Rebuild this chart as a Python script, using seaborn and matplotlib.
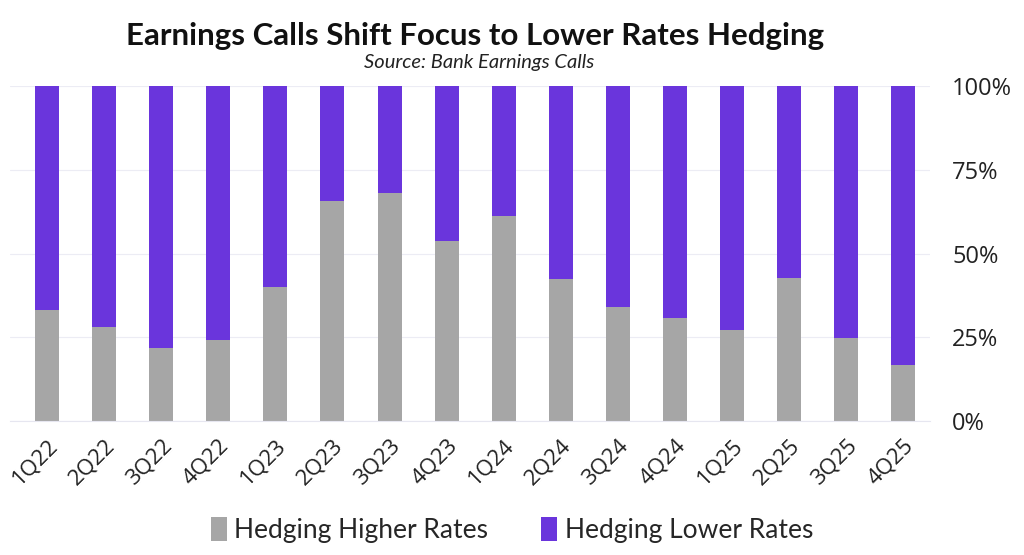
import numpy as np
import pandas as pd

import seaborn as sns
import matplotlib.pyplot as plt

quarters = ["1Q22", "2Q22", "3Q22", "4Q22", "1Q23", "2Q23", "3Q23", "4Q23",
            "1Q24", "2Q24", "3Q24", "4Q24", "1Q25", "2Q25", "3Q25", "4Q25"]
higher = [33.1, 28.1, 21.8, 24.2, 40.0, 65.7, 68.1, 53.7,
          61.2, 42.4, 34.0, 30.7, 27.2, 42.7, 24.8, 16.7]
lower = [100 - h for h in higher]

gray = "#a6a6a6"
purple = "#6a35dc"

data = pd.DataFrame({"Quarter": quarters, "Higher": higher,
                     "Total": np.array(higher) + np.array(lower)})

sns.set_style("white")
plt.rcParams['font.family'] = ['Lato', 'DejaVu Sans']

fig = plt.figure(figsize=(10.24, 5.55), dpi=100)
ax = fig.add_axes([10 / 1024, 0.2414, 920 / 1024, 0.6036])

sns.barplot(data=data, x="Quarter", y="Total", color=purple, width=0.42,
            saturation=1, linewidth=0, ax=ax, label="Hedging Lower Rates")
sns.barplot(data=data, x="Quarter", y="Higher", color=gray, width=0.42,
            saturation=1, linewidth=0, ax=ax, label="Hedging Higher Rates")

ax.set_ylim(0, 100)
ax.set_xlim(-0.65, 15.47)
ax.yaxis.tick_right()
ax.set_yticks([0, 25, 50, 75, 100])
ax.set_yticklabels(["0%", "25%", "50%", "75%", "100%"], fontsize=17,
                   color="#222222", family="Open Sans")
ax.tick_params(axis="y", length=0, pad=16)
ax.tick_params(axis="x", length=6, color="#e6e6f0", pad=4)
plt.setp(ax.get_xticklabels(), rotation=45, ha="right", rotation_mode="anchor",
         color="#222222", fontsize=16, family="Open Sans")
ax.set_xlabel("")
ax.set_ylabel("")
ax.grid(axis="y", color="#ececf4", linewidth=0.8)
ax.set_axisbelow(True)
for s in ["top", "left", "right"]:
    ax.spines[s].set_visible(False)
ax.spines["bottom"].set_color("#e6e6f0")

handles, labels = ax.get_legend_handles_labels()
order = [labels.index("Hedging Higher Rates"), labels.index("Hedging Lower Rates")]
fig.legend([handles[i] for i in order], [labels[i] for i in order],
           loc="center", bbox_to_anchor=(0.5, 0.045), ncol=2, frameon=False,
           fontsize=19, handlelength=0.6, handleheight=1.0, handletextpad=0.3,
           columnspacing=2.0)
if ax.get_legend():
    ax.get_legend().remove()

fig.text(0.464, 0.935, "Earnings Calls Shift Focus to Lower Rates Hedging",
         ha="center", va="center", fontsize=22.5, fontweight="bold", color="#111111")
fig.text(0.468, 0.888, "Source: Bank Earnings Calls", ha="center", va="center",
         fontsize=14.5, style="italic", color="#222222")

fig.savefig("out.png", dpi=100)
